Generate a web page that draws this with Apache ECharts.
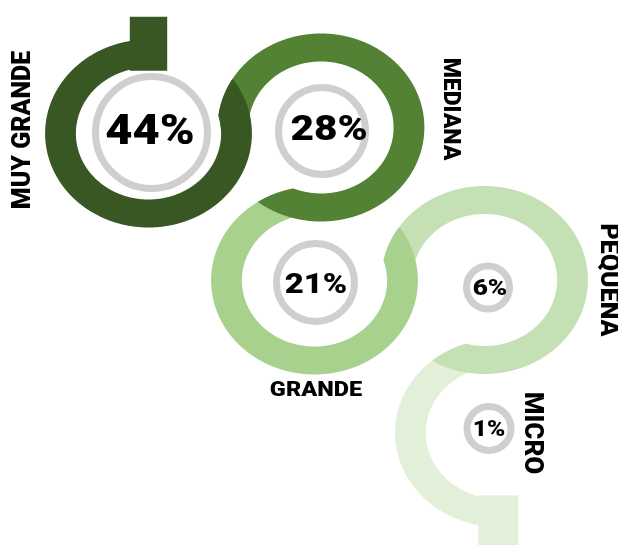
<!DOCTYPE html>
<html><head><meta charset="utf-8">
<script src="https://cdn.jsdelivr.net/npm/echarts/dist/echarts.min.js"></script>
<style>html,body{margin:0;padding:0;background:#fff}#c{width:618px;height:545px}</style>
</head><body><div id="c"></div>
<script>
// ---- data ----
const categories = ['MUY GRANDE', 'MEDIANA', 'GRANDE', 'PEQUEÑA', 'MICRO'];
const values = [44, 28, 21, 6, 1];

// ---- layout (ring geometry in unstretched units, x stretched by SX) ----
const SX = 1.1;
const ringCenters = [[135, 133.5], [291.8, 127.5], [285.9, 280.5], [440.5, 280], [453.1, 432.8]];
const ringDir = [1, -1, 1, -1, 1];
const ringColors = ['#385723', '#548235', '#a9d18e', '#c5e0b4', '#e2f0d9'];
const R_IN = 66, R_OUT = 94;
// gray circles & labels in screen pixels
const circleCenters = [[151.5, 132.5], [322, 131], [315.5, 282.5], [488, 287.5], [489, 428.5]];
const circleRadius = [56, 43.5, 39, 21.5, 22];
const valueFont = [42, 35, 27, 22.5, 22];
const valueScale = [1.12, 1.16, 1.22, 1.16, 1.12];
const valuePos = [[150, 133], [329, 131], [316, 286], [490, 289], [489, 430]];
const catPos = [[23, 130], [450, 109], [316, 391], [607, 280], [531, 433]];
const catRot = [Math.PI / 2, -Math.PI / 2, 0, -Math.PI / 2, -Math.PI / 2];
const catFont = [25, 23, 21, 25, 26];
const catScale = [1.05, 1.05, 1.12, 1.0, 1.0];
const FONT = 'Roboto, "Liberation Sans", Arial, sans-serif';

function ang(a, b) { return Math.atan2(-(b[1] - a[1]), b[0] - a[0]) * 180 / Math.PI; }

function rayDisk(C, ux, uy, D, R) {
  const cx = C[0] - D[0], cy = C[1] - D[1];
  const b = ux * cx + uy * cy, c = cx * cx + cy * cy - R * R;
  const disc = b * b - c;
  if (disc < 0) return null;
  const s = Math.sqrt(disc);
  return [-b - s, -b + s];
}

function ringPolygon(i) {
  const n = ringCenters.length;
  const C = ringCenters[i], dir = ringDir[i];
  let a0, a1, cl = null, N = null;
  const P = i > 0 ? ringCenters[i - 1] : null;
  a0 = (i === 0) ? 90 : ang(C, P);
  if (i < n - 1) {
    N = ringCenters[i + 1];
    cl = ang(C, N);
    while ((cl - a0) * dir <= 0) cl += 360 * dir;
    const d = Math.hypot(N[0] - C[0], N[1] - C[1]);
    const phi = Math.acos(Math.min(1, d / (2 * R_OUT))) * 180 / Math.PI;
    a1 = cl + dir * (phi + 3);
  } else {
    a1 = 270;
    while ((a1 - a0) * dir <= 0) a1 += 360 * dir;
  }
  const outer = [], inner = [];
  const steps = Math.ceil(Math.abs(a1 - a0) / 0.3);
  for (let k = 0; k <= steps; k++) {
    const th = a0 + (a1 - a0) * k / steps;
    const r = th * Math.PI / 180, ux = Math.cos(r), uy = -Math.sin(r);
    let lo = R_IN, hi = R_OUT;
    // start zone: keep out of the previous ring's hole
    if (P && Math.abs(th - a0) < 60) {
      const s = rayDisk(C, ux, uy, P, R_IN);
      if (s && s[1] > lo && s[0] < hi) {
        if (s[0] > lo) hi = s[0];
        else if (s[1] < hi) lo = s[1];
        else continue;
      }
    }
    // end zone: clip to the next ring's disc
    if (N && (th - cl) * dir > 0) {
      const s = rayDisk(C, ux, uy, N, R_OUT);
      if (!s) continue;
      lo = Math.max(lo, s[0]); hi = Math.min(hi, s[1]);
    }
    if (hi <= lo) continue;
    outer.push([C[0] + hi * ux, C[1] + hi * uy]);
    inner.push([C[0] + lo * ux, C[1] + lo * uy]);
  }
  return outer.concat(inner.reverse());
}

function renderItem(params, api) {
  const i = api.value(0);
  const v = api.value(1);
  const z = 10 * (6 - i);
  const C = ringCenters[i];
  const ringEls = [{
    type: 'polygon', shape: { points: ringPolygon(i) },
    style: { fill: ringColors[i] }, z2: z
  }];
  if (i === 0) {
    const hw = 17;
    ringEls.push({ type: 'rect', shape: { x: C[0] - hw, y: 16.7, width: 2 * hw, height: C[1] - Math.sqrt(R_IN * R_IN - hw * hw) - 16.7 + 1 },
      style: { fill: ringColors[i] }, z2: z });
  }
  if (i === ringCenters.length - 1) {
    const hw = 18.2, top = C[1] + Math.sqrt(R_IN * R_IN - hw * hw) - 1;
    ringEls.push({ type: 'rect', shape: { x: C[0] - hw, y: top, width: 2 * hw, height: 600 - top },
      style: { fill: ringColors[i] }, z2: z });
  }
  const cc = circleCenters[i];
  const rotated = catRot[i] !== 0;
  const children = [
    { type: 'group', scaleX: SX, scaleY: 1, originX: 0, originY: 0, children: ringEls },
    { type: 'circle', shape: { cx: cc[0], cy: cc[1], r: circleRadius[i] },
      style: { fill: '#ffffff', stroke: '#d0cece', lineWidth: 7 }, z2: 100 },
    { type: 'text', x: valuePos[i][0], y: valuePos[i][1], scaleX: valueScale[i], z2: 110,
      style: { text: v + '%', fill: '#000', fontFamily: FONT, fontWeight: 900, fontSize: valueFont[i], align: 'center', verticalAlign: 'middle' } },
    { type: 'text', x: catPos[i][0], y: catPos[i][1], rotation: catRot[i], z2: 110,
      scaleX: rotated ? 1 : catScale[i], scaleY: rotated ? catScale[i] : 1,
      style: { text: categories[i], fill: '#000', fontFamily: FONT, fontWeight: 900, fontSize: catFont[i], align: 'center', verticalAlign: 'middle' } }
  ];
  return { type: 'group', children };
}

const chart = echarts.init(document.getElementById('c'));
chart.setOption({
  animation: false,
  backgroundColor: '#ffffff',
  series: [{
    type: 'custom',
    coordinateSystem: 'none',
    data: values.map((v, i) => [i, v]),
    renderItem
  }]
});
</script></body></html>
